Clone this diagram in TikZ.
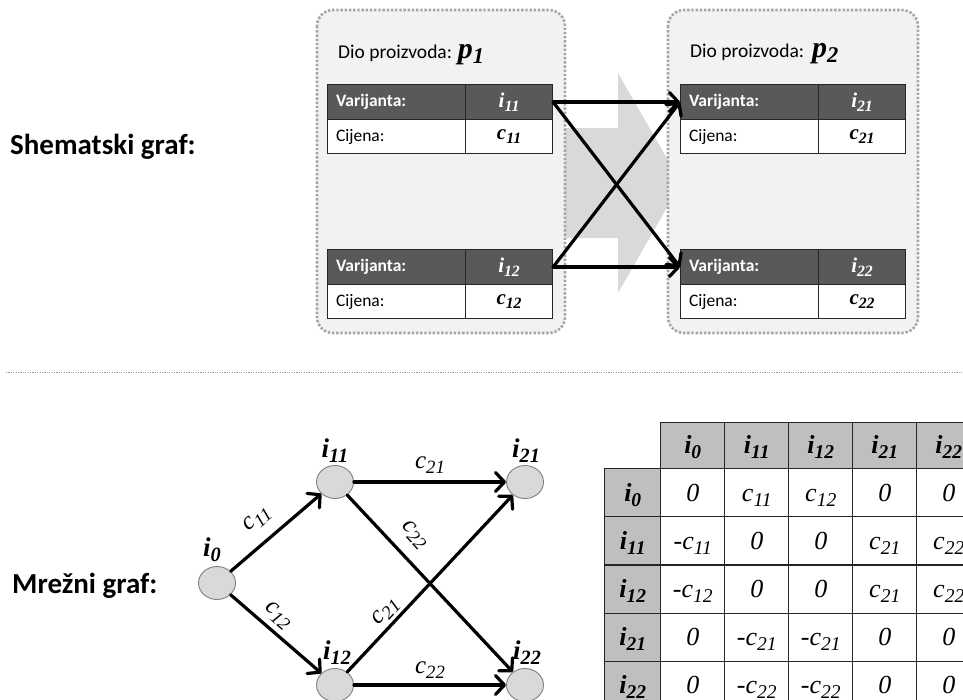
\documentclass[tikz,border=0pt]{standalone}
\usepackage{fontspec}
\setmainfont{Liberation Serif}
\newfontfamily\calfont{Carlito}
\usepackage{graphicx}
\usetikzlibrary{arrows.meta,shapes.geometric,matrix}
\newcommand\mysub[2]{#1\raisebox{-0.42ex}{\scalebox{0.75}{#2}}}
\definecolor{hdrgray}{HTML}{595959}
\definecolor{boxfill}{HTML}{F2F2F2}
\definecolor{boxline}{HTML}{A6A6A6}
\definecolor{arrowgray}{HTML}{D9D9D9}
\definecolor{tblhead}{HTML}{BFBFBF}
\begin{document}
\begin{tikzpicture}[x=1pt,y=-1pt,
  sectiontitle/.style={font=\calfont\bfseries\fontsize{29}{34}\selectfont, anchor=base west, inner sep=0pt},
  container/.style={draw=boxline, fill=boxfill, line width=2.6pt, dash pattern=on 2.4pt off 1.8pt, rounded corners=16pt},
  parttitle/.style={font=\calfont\fontsize{19.5}{23}\selectfont, anchor=base west, inner sep=0pt},
  cellbase/.style={draw=black!85, line width=1.1pt, anchor=north west, inner ysep=0pt},
  hdrL/.style={cellbase, fill=hdrgray, text=white, font=\calfont\bfseries\fontsize{17.5}{20}\selectfont, text width=121pt, inner xsep=8.5pt, align=left, minimum height=35pt},
  hdrR/.style={cellbase, fill=hdrgray, text=white, font=\bfseries\itshape\fontsize{21}{24}\selectfont, minimum width=87pt, inner xsep=0pt, minimum height=35pt},
  rowL/.style={cellbase, fill=white, font=\calfont\fontsize{17.5}{20}\selectfont, text width=121pt, inner xsep=8.5pt, align=left, minimum height=34pt},
  rowR/.style={cellbase, fill=white, font=\bfseries\itshape\fontsize{21}{24}\selectfont, minimum width=87pt, inner xsep=0pt, minimum height=34pt},
  conn/.style={line width=3.2pt, line cap=round, -{Straight Barb[length=9pt,width=19pt,line cap=round,line join=round]}},
  gnode/.style={ellipse, draw=black!50, fill=arrowgray, line width=0.9pt, minimum width=37pt, minimum height=33pt, inner sep=0pt},
  glabel/.style={font=\bfseries\itshape\fontsize{27}{31}\selectfont, inner sep=0pt},
  elabel/.style={font=\itshape\fontsize{25}{29}\selectfont, sloped, above},
]
\useasboundingbox (0,0) rectangle (963,699);
\fill[white] (0,0) rectangle (963,699);

% ---------- upper part ----------
\node[sectiontitle] (t1) at (10,154) {Shematski graf:};

\fill[arrowgray] (560,128) -- (618,128) -- (618,73) -- (681,183) -- (618,293) -- (618,238) -- (560,238) -- cycle;

\draw[container] (317,10) rectangle (565,333);
\draw[container] (668,10) rectangle (918,333);

\node[parttitle] (p1) at (338,58) {Dio proizvoda: {\rmfamily\bfseries\itshape\fontsize{30}{34}\selectfont \mysub{p}{1}}};
\node[parttitle] (p2) at (690,57) {Dio proizvoda:\hspace{8pt}{\rmfamily\bfseries\itshape\fontsize{30}{34}\selectfont \mysub{p}{2}}};

% left tables
\node[hdrL] (Ahl) at (327,84) {Varijanta:};
\node[hdrR] (Ahr) at (465,84) {\mysub{i}{11}};
\node[rowL] (Arl) at (327,119) {Cijena:};
\node[rowR] (Arr) at (465,119) {\mysub{c}{11}};

\node[hdrL] (Bhl) at (327,249) {Varijanta:};
\node[hdrR] (Bhr) at (465,249) {\mysub{i}{12}};
\node[rowL] (Brl) at (327,284) {Cijena:};
\node[rowR] (Brr) at (465,284) {\mysub{c}{12}};

% right tables
\node[hdrL] (Chl) at (680,84) {Varijanta:};
\node[hdrR] (Chr) at (818,84) {\mysub{i}{21}};
\node[rowL] (Crl) at (680,119) {Cijena:};
\node[rowR] (Crr) at (818,119) {\mysub{c}{21}};

\node[hdrL] (Dhl) at (680,249) {Varijanta:};
\node[hdrR] (Dhr) at (818,249) {\mysub{i}{22}};
\node[rowL] (Drl) at (680,284) {Cijena:};
\node[rowR] (Drr) at (818,284) {\mysub{c}{22}};

\draw[conn] (Ahr.east) -- (Chl.west);
\draw[conn] (Ahr.east) -- (Dhl.west);
\draw[conn] (Bhr.east) -- (Chl.west);
\draw[conn] (Bhr.east) -- (Dhl.west);

% separator
\coordinate (s1) at (6,372);
\coordinate (s2) at (963,372);
\draw[black!40, line width=0.9pt, dash pattern=on 1.2pt off 1.2pt] (s1) -- (s2);

% ---------- lower part ----------
\node[sectiontitle] (t2) at (12,593) {Mrežni graf:};

\node[gnode] (n0) at (217,583) {};
\node[gnode] (n11) at (335,482) {};
\node[gnode] (n12) at (335,685) {};
\node[gnode] (n21) at (525,482) {};
\node[gnode] (n22) at (525,685) {};

\node[glabel] (l0) at (212,550) {\mysub{i}{0}};
\node[glabel] (l11) at (335,451) {\mysub{i}{11}};
\node[glabel] (l21) at (526,451) {\mysub{i}{21}};
\node[glabel] (l12) at (337,653) {\mysub{i}{12}};
\node[glabel] (l22) at (527,653) {\mysub{i}{22}};

\draw[conn] (n0) -- node[elabel, pos=0.45, inner sep=12pt] {\mysub{c}{11}} (n11);
\draw[conn] (n0) -- node[elabel, pos=0.41, inner sep=5pt] {\mysub{c}{12}} (n12);
\draw[conn] (n11) -- node[elabel, pos=0.5, inner sep=7pt] {\mysub{c}{21}} (n21);
\draw[conn] (n11) -- node[elabel, pos=0.31, inner sep=12pt] {\mysub{c}{22}} (n22);
\draw[conn] (n12) -- node[elabel, pos=0.29, inner sep=3pt] {\mysub{c}{21}} (n21);
\draw[conn] (n12) -- node[elabel, pos=0.5, inner sep=5pt] {\mysub{c}{22}} (n22);

% matrix table
\matrix (M) [matrix of nodes, anchor=north west, inner sep=0pt, column sep=-1.1pt, row sep=-1.1pt,
  nodes={draw=black!85, line width=1.1pt, anchor=center, minimum width=64pt, minimum height=48.1pt, inner sep=0pt, text height=20pt, text depth=3pt, font=\itshape\fontsize{26}{30}\selectfont},
  row 1/.style={nodes={fill=tblhead, minimum height=46pt, text height=19pt, text depth=4pt, font=\bfseries\itshape\fontsize{26}{30}\selectfont}},
  column 1/.style={nodes={fill=tblhead, minimum width=56pt, font=\bfseries\itshape\fontsize{26}{30}\selectfont}}
] at (604,422) {
  & \mysub{i}{0} & \mysub{i}{11} & \mysub{i}{12} & \mysub{i}{21} & \mysub{i}{22} \\
  \mysub{i}{0} & 0 & \mysub{c}{11} & \mysub{c}{12} & 0 & 0 \\
  \mysub{i}{11} & -\mysub{c}{11} & 0 & 0 & \mysub{c}{21} & \mysub{c}{22} \\
  \mysub{i}{12} & -\mysub{c}{12} & 0 & 0 & \mysub{c}{21} & \mysub{c}{22} \\
  \mysub{i}{21} & 0 & -\mysub{c}{21} & -\mysub{c}{21} & 0 & 0 \\
  \mysub{i}{22} & 0 & -\mysub{c}{22} & -\mysub{c}{22} & 0 & 0 \\
};
\end{tikzpicture}
\end{document}
